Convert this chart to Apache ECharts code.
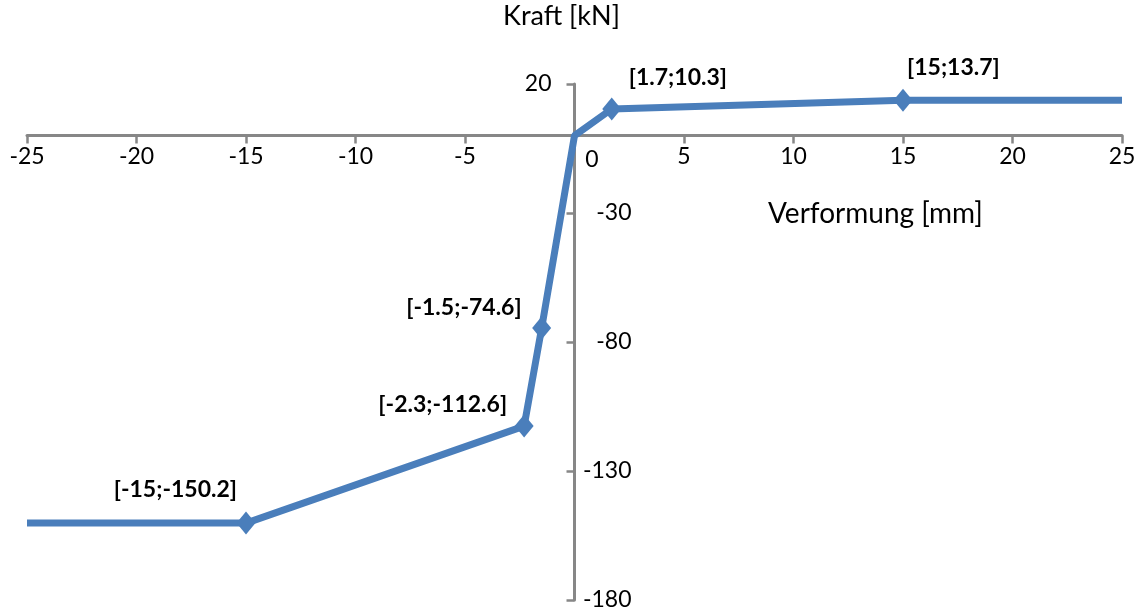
<!DOCTYPE html>
<html>
<head>
<meta charset="utf-8">
<script src="https://cdn.jsdelivr.net/npm/echarts@6/dist/echarts.min.js"></script>
<style>
html,body{margin:0;padding:0;background:#fff;}
#chart{width:1140px;height:612px;}
</style>
</head>
<body>
<div id="chart"></div>
<script>
// Data
const deformation = [-25, -15, -2.3, -1.5, 0, 1.7, 15, 25];   // Verformung [mm]
const force = [-150.2, -150.2, -112.6, -74.6, 0, 10.3, 13.7, 13.7]; // Kraft [kN]
const xTitle = 'Verformung [mm]';
const yTitle = 'Kraft [kN]';
const xRange = [-25, 25];
const yRange = [-180, 20];

const FONT = 'Lato';
const axisGray = '#878787';
const lineBlue = '#4a7ebb';

// Label placement per point (styling only)
const labelPlacement = {
  1: { align: 'right', offset: [-9, -34] },
  2: { align: 'right', offset: [-17, -22] },
  3: { align: 'right', offset: [-20, -20] },
  5: { align: 'left', offset: [17, -31] },
  6: { align: 'left', offset: [4, -33] }
};

const seriesData = deformation.map((x, i) => {
  const item = { value: [x, force[i]] };
  const lp = labelPlacement[i];
  if (lp) {
    item.symbol = 'diamond';
    item.label = {
      show: true,
      position: 'inside',
      align: lp.align,
      verticalAlign: 'middle',
      offset: lp.offset,
      formatter: '[' + x + ';' + force[i] + ']'
    };
  } else {
    item.symbol = 'none';
    item.label = { show: false };
  }
  return item;
});

const chart = echarts.init(document.getElementById('chart'));
chart.setOption({
  animation: false,
  backgroundColor: '#fff',
  grid: { left: 27, right: 18, top: 84, bottom: 12, containLabel: false, outerBoundsMode: 'none' },
  xAxis: {
    type: 'value',
    position: 'bottom',
    min: xRange[0], max: xRange[1], interval: 5,
    axisLine: { show: true, onZero: false, lineStyle: { color: axisGray, width: 3 } },
    axisTick: { show: true, inside: false, length: 8, lineStyle: { color: axisGray, width: 2.5 } },
    splitLine: { show: false },
    axisLabel: {
      margin: 9,
      color: '#000',
      fontFamily: FONT,
      fontSize: 23,
      hideOverlap: false,
      formatter: v => v === 0 ? '{z|0}' : String(v),
      rich: { z: { padding: [3, 0, 0, 35], fontFamily: FONT, fontSize: 23, color: '#000' } }
    }
  },
  yAxis: {
    type: 'value',
    position: 'left',
    min: yRange[0], max: yRange[1], interval: 50,
    axisLine: { show: true, onZero: false, lineStyle: { color: axisGray, width: 3 } },
    axisTick: { show: true, inside: false, length: 8, lineStyle: { color: axisGray, width: 2.5 } },
    splitLine: { show: false },
    axisLabel: {
      inside: true,
      align: 'right',
      margin: 57,
      color: '#000',
      fontFamily: FONT,
      fontSize: 23,
      hideOverlap: false,
      formatter: v => v === 20 ? '{a|20}' : String(v),
      rich: { a: { padding: [0, 80, 0, 0], fontFamily: FONT, fontSize: 23, color: '#000' } }
    }
  },
  graphic: [
    { type: 'text', left: 503, top: 3, style: { text: yTitle, font: '27px ' + FONT, fill: '#000' } },
    { type: 'text', left: 768, top: 200, style: { text: xTitle, font: '28px ' + FONT, fill: '#000' } }
  ],
  series: [{
    type: 'line',
    data: seriesData,
    symbolSize: [19, 23],
    showAllSymbol: true,
    lineStyle: { color: lineBlue, width: 7 },
    itemStyle: { color: lineBlue },
    label: {
      color: '#000',
      fontFamily: FONT,
      fontWeight: 'bold',
      fontSize: 23,
      textBorderWidth: 0
    },
    emphasis: { disabled: true },
    z: 3
  }]
});

// Move axes so they cross at the origin, using the library's own scales
const origin = chart.convertToPixel({ gridIndex: 0 }, [0, 0]);
const corner = chart.convertToPixel({ gridIndex: 0 }, [xRange[0], yRange[0]]);
chart.setOption({
  xAxis: { offset: origin[1] - corner[1] },
  yAxis: { offset: corner[0] - origin[0] }
});
</script>
</body>
</html>
